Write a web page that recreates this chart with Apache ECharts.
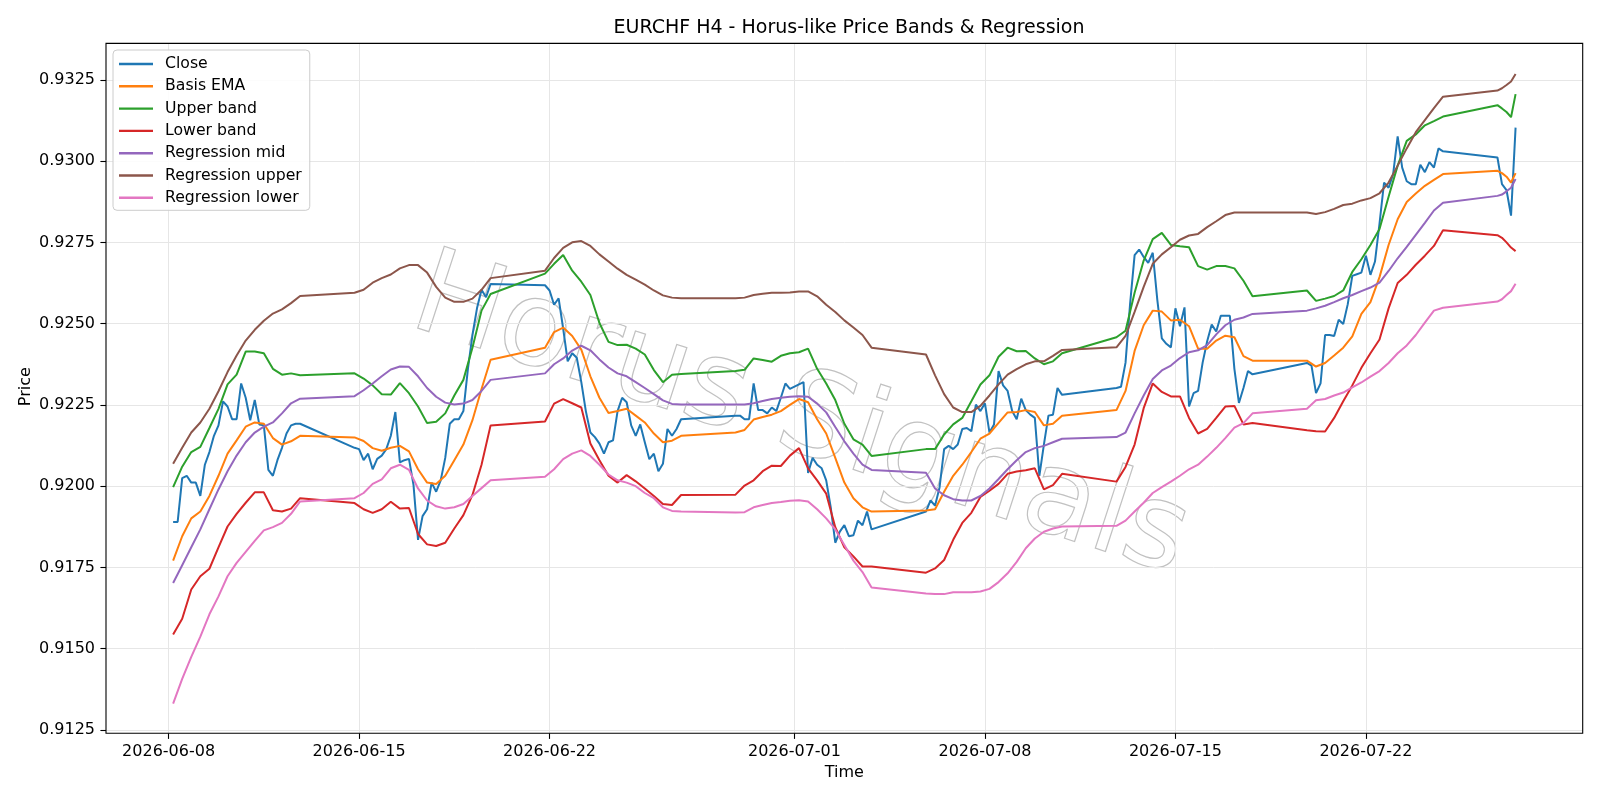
<!DOCTYPE html>
<html>
<head>
<meta charset="utf-8">
<title>EURCHF H4 - Horus-like Price Bands &amp; Regression</title>
<script src="https://cdn.jsdelivr.net/npm/echarts@6/dist/echarts.min.js"></script>
<style>
  html, body { margin: 0; padding: 0; background: #fff; }
  #chart { width: 1600px; height: 800px; }
</style>
</head>
<body>
<div id="chart"></div>
<script>
// trading days of the H4 feed (weekdays only)
const tradingDays = [
  '2026-06-08', '2026-06-09', '2026-06-10', '2026-06-11', '2026-06-12',
  '2026-06-15', '2026-06-16', '2026-06-17', '2026-06-18', '2026-06-19',
  '2026-06-22', '2026-06-23', '2026-06-24', '2026-06-25', '2026-06-26',
  '2026-06-29', '2026-06-30', '2026-07-01', '2026-07-02', '2026-07-03',
  '2026-07-06', '2026-07-07', '2026-07-08', '2026-07-09', '2026-07-10',
  '2026-07-13', '2026-07-14', '2026-07-15', '2026-07-16', '2026-07-17',
  '2026-07-20', '2026-07-21', '2026-07-22', '2026-07-23', '2026-07-24',
  '2026-07-27'
];

const xTickLabels = ['2026-06-08', '2026-06-15', '2026-06-22', '2026-07-01', '2026-07-08', '2026-07-15', '2026-07-22'];
const yTickLabels = ['0.9125', '0.9150', '0.9175', '0.9200', '0.9225', '0.9250', '0.9275', '0.9300', '0.9325'];

// Close, every H4 bar (Sunday 20:00 bar opens each new week)
const closeValues = [
  0.91890, 0.91890, 0.92025, 0.92032, 0.92011,
  0.92011, 0.91970, 0.92066, 0.92105, 0.92155, 0.92187,
  0.92261, 0.92245, 0.92206, 0.92206, 0.92316, 0.92272,
  0.92203, 0.92265, 0.92190, 0.92187, 0.92050, 0.92032,
  0.92080, 0.92118, 0.92162, 0.92187, 0.92192, 0.92192,
  0.92118,
  0.92114, 0.92080, 0.92100, 0.92052, 0.92084, 0.92094,
  0.92114, 0.92155, 0.92228, 0.92073, 0.92080, 0.92084,
  0.92004, 0.91835, 0.91908, 0.91929, 0.92011, 0.91983,
  0.92018, 0.92087, 0.92192, 0.92206, 0.92206, 0.92231,
  0.92361, 0.92465, 0.92547, 0.92604, 0.92581, 0.92622,
  0.92618,
  0.92602, 0.92558, 0.92578, 0.92485, 0.92384, 0.92409,
  0.92395, 0.92320, 0.92231, 0.92165, 0.92151, 0.92131,
  0.92100, 0.92135, 0.92141, 0.92231, 0.92272, 0.92258,
  0.92187, 0.92155, 0.92190, 0.92135, 0.92083, 0.92100,
  0.92046, 0.92069, 0.92176, 0.92155, 0.92176, 0.92206,
  0.92217,
  0.92217, 0.92206, 0.92206, 0.92316, 0.92234, 0.92234,
  0.92224, 0.92242, 0.92231, 0.92272, 0.92316, 0.92299,
  0.92306, 0.92313, 0.92320, 0.92041, 0.92087, 0.92066,
  0.92055, 0.92018, 0.91935, 0.91826, 0.91860, 0.91880,
  0.91846, 0.91849, 0.91894, 0.91880, 0.91922, 0.91867,
  0.91922,
  0.91956, 0.91940, 0.91997, 0.92114, 0.92124, 0.92114,
  0.92128, 0.92176, 0.92179, 0.92169, 0.92251, 0.92231,
  0.92255, 0.92165, 0.92190, 0.92354, 0.92310, 0.92293,
  0.92231, 0.92206, 0.92269, 0.92234, 0.92220, 0.92210,
  0.92032, 0.92128, 0.92217, 0.92220, 0.92302, 0.92281,
  0.92302,
  0.92306, 0.92380, 0.92560, 0.92711, 0.92728, 0.92705,
  0.92687, 0.92718, 0.92574, 0.92455, 0.92438, 0.92427,
  0.92547, 0.92492, 0.92550, 0.92245, 0.92286, 0.92293,
  0.92380, 0.92446, 0.92497, 0.92476, 0.92524, 0.92524,
  0.92524, 0.92361, 0.92256, 0.92302, 0.92354, 0.92344,
  0.92379,
  0.92371, 0.92286, 0.92316, 0.92465, 0.92465, 0.92462,
  0.92512, 0.92499, 0.92560, 0.92647, 0.92652, 0.92657,
  0.92709, 0.92650, 0.92691, 0.92808, 0.92934, 0.92918,
  0.92959, 0.93076, 0.92980, 0.92938, 0.92929, 0.92929,
  0.92989, 0.92966, 0.92997, 0.92980, 0.93039, 0.93030,
  0.93011, 0.92929, 0.92911, 0.92832, 0.93103
];

// band / regression lines, read every 8 hours (04, 12, 20) plus the Sunday bar
const basisEma = [
  0.91771, 0.91846, 0.91901, 0.91922, 0.91970, 0.92032, 0.92100, 0.92141, 0.92183, 0.92196, 0.92192, 0.92148, 0.92128, 0.92138, 0.92155,
  0.92150, 0.92139, 0.92117, 0.92109, 0.92118, 0.92124, 0.92107, 0.92052, 0.92011, 0.92007, 0.92032, 0.92080, 0.92128, 0.92203, 0.92299, 0.92389,
  0.92426, 0.92474, 0.92488, 0.92462, 0.92420, 0.92338, 0.92272, 0.92225, 0.92231, 0.92238, 0.92217, 0.92196, 0.92162, 0.92135, 0.92140, 0.92155,
  0.92165, 0.92173, 0.92205, 0.92213, 0.92220, 0.92231, 0.92250, 0.92268, 0.92258, 0.92206, 0.92162, 0.92087, 0.92011, 0.91963, 0.91935, 0.91922,
  0.91925, 0.91929, 0.91983, 0.92032, 0.92066, 0.92105, 0.92146, 0.92162, 0.92195, 0.92227, 0.92228, 0.92234, 0.92228, 0.92187, 0.92192, 0.92217,
  0.92234, 0.92293, 0.92416, 0.92495, 0.92540, 0.92537, 0.92510, 0.92512, 0.92492, 0.92423, 0.92423, 0.92448, 0.92463, 0.92458, 0.92400, 0.92386,
  0.92386, 0.92368, 0.92379, 0.92402, 0.92426, 0.92461, 0.92530, 0.92566, 0.92643, 0.92742, 0.92821, 0.92874, 0.92900, 0.92924, 0.92942, 0.92960,
  0.92970, 0.92963, 0.92952, 0.92934, 0.92963
];
const upperBand = [
  0.91997, 0.92060, 0.92105, 0.92121, 0.92179, 0.92238, 0.92313, 0.92343, 0.92414, 0.92414, 0.92409, 0.92361, 0.92343, 0.92347, 0.92341,
  0.92347, 0.92331, 0.92310, 0.92283, 0.92282, 0.92317, 0.92286, 0.92245, 0.92194, 0.92198, 0.92224, 0.92279, 0.92327, 0.92426, 0.92540, 0.92591,
  0.92654, 0.92684, 0.92711, 0.92663, 0.92629, 0.92588, 0.92502, 0.92444, 0.92434, 0.92435, 0.92423, 0.92405, 0.92357, 0.92320, 0.92343, 0.92345,
  0.92354, 0.92358, 0.92393, 0.92388, 0.92383, 0.92401, 0.92409, 0.92412, 0.92423, 0.92361, 0.92316, 0.92265, 0.92192, 0.92144, 0.92128, 0.92093,
  0.92114, 0.92114, 0.92159, 0.92190, 0.92210, 0.92261, 0.92313, 0.92341, 0.92398, 0.92426, 0.92415, 0.92416, 0.92393, 0.92375, 0.92384, 0.92409,
  0.92458, 0.92478, 0.92595, 0.92694, 0.92760, 0.92779, 0.92742, 0.92738, 0.92735, 0.92677, 0.92666, 0.92677, 0.92677, 0.92670, 0.92632, 0.92584,
  0.92602, 0.92570, 0.92577, 0.92585, 0.92602, 0.92659, 0.92698, 0.92742, 0.92791, 0.92890, 0.92986, 0.93062, 0.93082, 0.93110, 0.93123, 0.93137,
  0.93172, 0.93162, 0.93151, 0.93135, 0.93206
];
const lowerBand = [
  0.91544, 0.91592, 0.91682, 0.91723, 0.91746, 0.91812, 0.91876, 0.91915, 0.91949, 0.91981, 0.91981, 0.91926, 0.91922, 0.91931, 0.91963,
  0.91948, 0.91929, 0.91918, 0.91929, 0.91952, 0.91931, 0.91933, 0.91853, 0.91821, 0.91816, 0.91826, 0.91870, 0.91911, 0.91973, 0.92066, 0.92187,
  0.92199, 0.92254, 0.92268, 0.92255, 0.92242, 0.92131, 0.92080, 0.92032, 0.92011, 0.92034, 0.92015, 0.91993, 0.91970, 0.91945, 0.91942, 0.91973,
  0.91974, 0.92002, 0.92018, 0.92046, 0.92063, 0.92062, 0.92094, 0.92117, 0.92055, 0.92018, 0.91977, 0.91874, 0.91812, 0.91784, 0.91753, 0.91753,
  0.91734, 0.91747, 0.91773, 0.91835, 0.91887, 0.91918, 0.91967, 0.91986, 0.92007, 0.92038, 0.92045, 0.92049, 0.92055, 0.91990, 0.92003, 0.92038,
  0.92014, 0.92059, 0.92128, 0.92240, 0.92316, 0.92290, 0.92276, 0.92276, 0.92210, 0.92162, 0.92176, 0.92210, 0.92245, 0.92247, 0.92190, 0.92194,
  0.92172, 0.92169, 0.92168, 0.92210, 0.92261, 0.92310, 0.92364, 0.92409, 0.92451, 0.92547, 0.92625, 0.92650, 0.92681, 0.92709, 0.92739, 0.92787,
  0.92772, 0.92764, 0.92750, 0.92734, 0.92723
];
const regMid = [
  0.91702, 0.91757, 0.91812, 0.91867, 0.91929, 0.91990, 0.92046, 0.92094, 0.92135, 0.92165, 0.92183, 0.92196, 0.92224, 0.92255, 0.92269,
  0.92277, 0.92295, 0.92316, 0.92338, 0.92359, 0.92368, 0.92367, 0.92338, 0.92302, 0.92275, 0.92257, 0.92251, 0.92254, 0.92265, 0.92293, 0.92327,
  0.92347, 0.92375, 0.92393, 0.92417, 0.92432, 0.92418, 0.92390, 0.92365, 0.92347, 0.92338, 0.92320, 0.92302, 0.92283, 0.92264, 0.92253, 0.92251,
  0.92251, 0.92251, 0.92255, 0.92262, 0.92268, 0.92272, 0.92275, 0.92277, 0.92275, 0.92254, 0.92227, 0.92182, 0.92138, 0.92100, 0.92066, 0.92050,
  0.92041, 0.91993, 0.91972, 0.91960, 0.91956, 0.91956, 0.91970, 0.91993, 0.92022, 0.92052, 0.92080, 0.92105, 0.92117, 0.92124, 0.92135, 0.92146,
  0.92151, 0.92165, 0.92224, 0.92279, 0.92330, 0.92356, 0.92371, 0.92394, 0.92412, 0.92418, 0.92434, 0.92467, 0.92495, 0.92512, 0.92519, 0.92530,
  0.92540, 0.92547, 0.92555, 0.92566, 0.92578, 0.92588, 0.92600, 0.92611, 0.92626, 0.92662, 0.92701, 0.92736, 0.92773, 0.92810, 0.92848, 0.92872,
  0.92893, 0.92897, 0.92907, 0.92918, 0.92945
];
const regUpper = [
  0.92069, 0.92118, 0.92165, 0.92196, 0.92238, 0.92292, 0.92351, 0.92402, 0.92448, 0.92481, 0.92509, 0.92531, 0.92544, 0.92563, 0.92585,
  0.92595, 0.92604, 0.92626, 0.92640, 0.92651, 0.92670, 0.92680, 0.92680, 0.92657, 0.92613, 0.92580, 0.92567, 0.92567, 0.92577, 0.92604, 0.92640,
  0.92663, 0.92702, 0.92733, 0.92750, 0.92754, 0.92739, 0.92713, 0.92691, 0.92669, 0.92650, 0.92635, 0.92620, 0.92602, 0.92587, 0.92580, 0.92578,
  0.92578, 0.92580, 0.92588, 0.92592, 0.92595, 0.92595, 0.92596, 0.92599, 0.92599, 0.92584, 0.92558, 0.92536, 0.92510, 0.92488, 0.92465, 0.92426,
  0.92405, 0.92341, 0.92283, 0.92242, 0.92228, 0.92228, 0.92247, 0.92279, 0.92313, 0.92343, 0.92360, 0.92375, 0.92384, 0.92384, 0.92401, 0.92419,
  0.92427, 0.92462, 0.92536, 0.92613, 0.92684, 0.92713, 0.92735, 0.92758, 0.92771, 0.92776, 0.92797, 0.92815, 0.92834, 0.92842, 0.92842, 0.92842,
  0.92842, 0.92837, 0.92843, 0.92853, 0.92865, 0.92869, 0.92879, 0.92886, 0.92901, 0.92934, 0.92986, 0.93039, 0.93089, 0.93126, 0.93163, 0.93198,
  0.93217, 0.93224, 0.93234, 0.93245, 0.93268
];
const regLower = [
  0.91331, 0.91407, 0.91475, 0.91537, 0.91606, 0.91661, 0.91723, 0.91764, 0.91798, 0.91832, 0.91864, 0.91874, 0.91887, 0.91915, 0.91953,
  0.91963, 0.91979, 0.92007, 0.92021, 0.92055, 0.92066, 0.92050, 0.91993, 0.91956, 0.91938, 0.91931, 0.91935, 0.91945, 0.91970, 0.91994, 0.92018,
  0.92029, 0.92052, 0.92083, 0.92100, 0.92110, 0.92093, 0.92066, 0.92036, 0.92018, 0.92011, 0.92000, 0.91979, 0.91963, 0.91935, 0.91924, 0.91922,
  0.91919, 0.91920, 0.91935, 0.91942, 0.91948, 0.91951, 0.91955, 0.91957, 0.91953, 0.91929, 0.91901, 0.91867, 0.91819, 0.91771, 0.91736, 0.91688,
  0.91670, 0.91668, 0.91668, 0.91674, 0.91674, 0.91674, 0.91676, 0.91684, 0.91705, 0.91732, 0.91767, 0.91809, 0.91839, 0.91860, 0.91870, 0.91876,
  0.91878, 0.91894, 0.91922, 0.91949, 0.91979, 0.91997, 0.92014, 0.92032, 0.92052, 0.92066, 0.92091, 0.92118, 0.92148, 0.92180, 0.92194, 0.92224,
  0.92238, 0.92264, 0.92268, 0.92279, 0.92288, 0.92304, 0.92319, 0.92337, 0.92354, 0.92379, 0.92409, 0.92433, 0.92465, 0.92503, 0.92540, 0.92549,
  0.92568, 0.92575, 0.92588, 0.92600, 0.92623
];

const HOUR = 3600 * 1000;
function dayStart(s) {
  const p = s.split('-').map(Number);
  return Date.UTC(p[0], p[1] - 1, p[2]);
}
// bar times: hours per day, a Sunday 20:00 bar before each new week
function buildTimes(hours, firstHours, lastHours) {
  const out = [];
  tradingDays.forEach((day, i) => {
    const t0 = dayStart(day);
    if (new Date(t0).getUTCDay() === 1 && i > 0) out.push(t0 - 4 * HOUR);
    let hs = hours;
    if (i === 0) hs = firstHours;
    if (i === tradingDays.length - 1) hs = lastHours;
    hs.forEach(h => out.push(t0 + h * HOUR));
  });
  return out;
}
const closeTimes = buildTimes([0, 4, 8, 12, 16, 20], [4, 8, 12, 16, 20], [0, 4, 8, 12]);
const bandTimes = buildTimes([4, 12, 20], [4, 12, 20], [0, 4, 8, 12]);

// 5% margin each side like matplotlib autoscale
const tFirst = closeTimes[0];
const tLast = closeTimes[closeTimes.length - 1];
const pad = (tLast - tFirst) * 0.05;
const xMin = tFirst - pad;
const xMax = tLast + pad;

const xTicks = xTickLabels.map(dayStart);
const yTicks = yTickLabels.map(Number);

function pair(times, vals) {
  return vals.map((v, i) => [times[i], v]);
}
function fmtDate(v) {
  const d = new Date(v);
  const mm = String(d.getUTCMonth() + 1).padStart(2, '0');
  const dd = String(d.getUTCDate()).padStart(2, '0');
  return d.getUTCFullYear() + '-' + mm + '-' + dd;
}

const seriesDefs = [
  { name: 'Close', color: '#1f77b4', data: pair(closeTimes, closeValues) },
  { name: 'Basis EMA', color: '#ff7f0e', data: pair(bandTimes, basisEma) },
  { name: 'Upper band', color: '#2ca02c', data: pair(bandTimes, upperBand) },
  { name: 'Lower band', color: '#d62728', data: pair(bandTimes, lowerBand) },
  { name: 'Regression mid', color: '#9467bd', data: pair(bandTimes, regMid) },
  { name: 'Regression upper', color: '#8c564b', data: pair(bandTimes, regUpper) },
  { name: 'Regression lower', color: '#e377c2', data: pair(bandTimes, regLower) }
];

const font = 'DejaVu Sans';
const chart = echarts.init(document.getElementById('chart'), null, { renderer: 'canvas' });

const option = {
  animation: false,
  backgroundColor: '#fff',
  textStyle: { fontFamily: font },
  title: {
    text: 'EURCHF H4 - Horus-like Price Bands & Regression',
    left: 844,
    top: 14,
    textAlign: 'center',
    textStyle: { fontFamily: font, fontSize: 19, fontWeight: 'normal', color: '#000' }
  },
  legend: {
    orient: 'vertical',
    left: 113,
    top: 50,
    icon: 'rect',
    itemWidth: 34,
    itemHeight: 2.4,
    itemGap: 6.3,
    padding: [6, 8, 4.5, 6],
    backgroundColor: 'rgba(255,255,255,0.85)',
    borderColor: '#cccccc',
    borderWidth: 1,
    borderRadius: 4,
    textStyle: { fontFamily: font, fontSize: 15.7, color: '#000', padding: [0, 0, 0, 7] },
    data: seriesDefs.map(s => s.name)
  },
  graphic: {
    elements: [{
      type: 'text',
      x: 800,
      y: 420,
      rotation: -18 * Math.PI / 180,
      z: 0,
      silent: true,
      style: {
        text: 'Horus Signals',
        fontFamily: font,
        fontSize: 118,
        align: 'center',
        verticalAlign: 'middle',
        fill: 'rgba(255,255,255,0)',
        stroke: 'rgba(160,160,160,0.65)',
        lineWidth: 1.2,
        shadowColor: 'rgba(0,0,0,0.22)',
        shadowBlur: 3,
        shadowOffsetX: 2,
        shadowOffsetY: 2
      }
    }]
  },
  grid: [
    { left: 106, right: 17.3, top: 43.4, bottom: 70, show: false },
    { left: 106, right: 17.3, top: 43.4, bottom: 66.7, show: true, borderColor: '#000', borderWidth: 1.1, backgroundColor: 'rgba(0,0,0,0)', z: 5 }
  ],
  xAxis: [
    { gridIndex: 0, type: 'value', min: xMin, max: xMax, show: false },
    {
      gridIndex: 1, type: 'value', min: xMin, max: xMax,
      axisLine: { show: false },
      axisTick: { show: true, length: 5.6, customValues: xTicks, lineStyle: { color: '#000', width: 1.1 } },
      axisLabel: { customValues: xTicks, formatter: fmtDate, fontFamily: font, fontSize: 16, color: '#000', margin: 11 },
      splitLine: { show: true, lineStyle: { color: '#e6e6e6', width: 1 } },
      name: 'Time', nameLocation: 'middle', nameGap: 30,
      nameTextStyle: { fontFamily: font, fontSize: 16, color: '#000' }
    }
  ],
  yAxis: [
    {
      gridIndex: 0, type: 'value', min: 0.9125, max: 0.93362, interval: 0.0025,
      axisLine: { show: false },
      axisTick: { show: true, length: 5.6, customValues: yTicks, lineStyle: { color: '#000', width: 1.1 } },
      axisLabel: { customValues: yTicks, formatter: v => v.toFixed(4), fontFamily: font, fontSize: 16, color: '#000', margin: 11 },
      splitLine: { show: true, lineStyle: { color: '#e6e6e6', width: 1 } },
      name: 'Price', nameLocation: 'middle', nameGap: 72, nameRotate: 90,
      nameMoveOverlap: false,
      nameTextStyle: { fontFamily: font, fontSize: 16, color: '#000' }
    },
    { gridIndex: 1, type: 'value', min: 0, max: 1, show: false }
  ],
  series: seriesDefs.map(s => ({
    name: s.name,
    type: 'line',
    xAxisIndex: 0,
    yAxisIndex: 0,
    data: s.data,
    showSymbol: false,
    symbol: 'none',
    color: s.color,
    lineStyle: { color: s.color, width: 2 },
    z: 3
  }))
};

chart.setOption(option);
</script>
</body>
</html>
